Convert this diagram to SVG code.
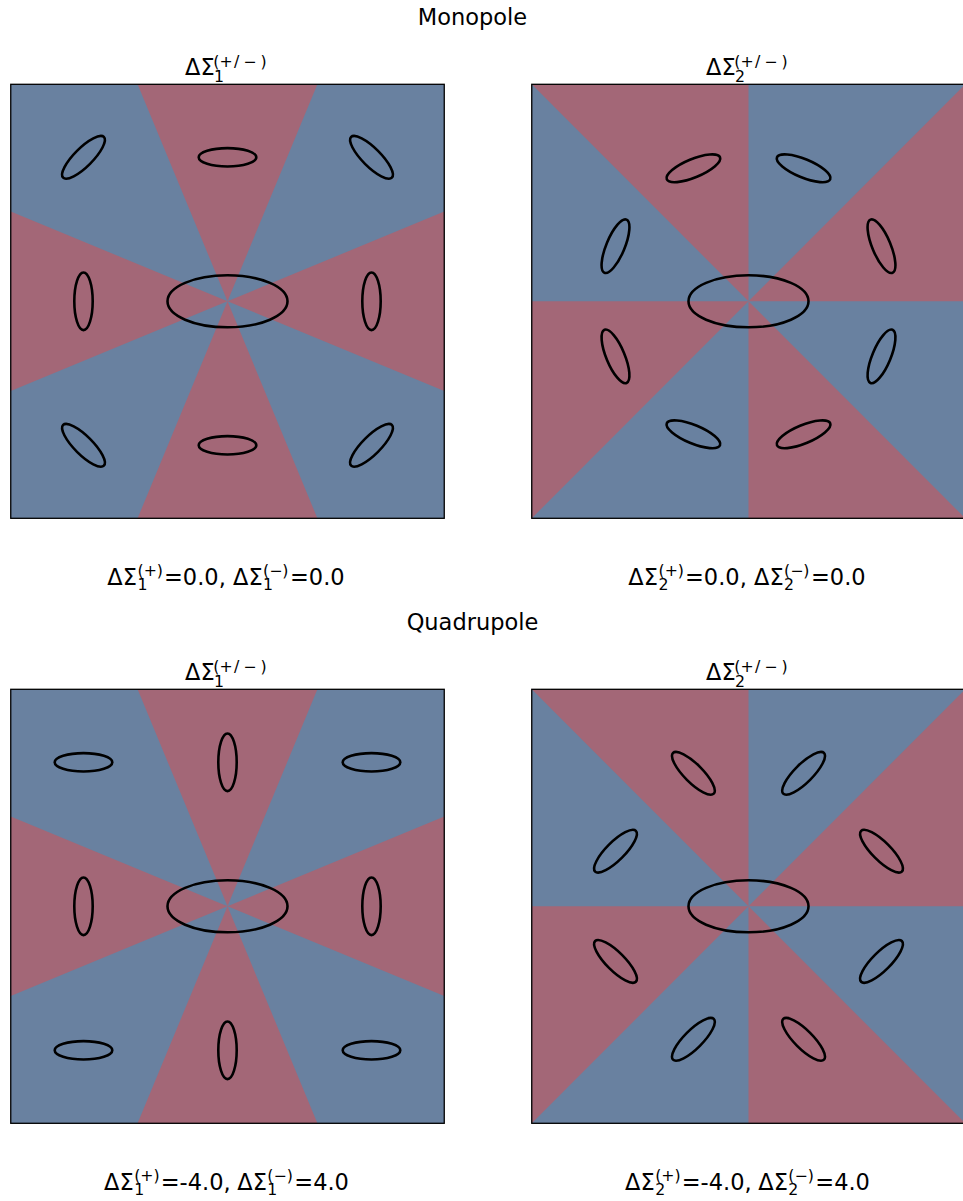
<svg xmlns="http://www.w3.org/2000/svg" xmlns:xlink="http://www.w3.org/1999/xlink" width="963" height="1201" viewBox="0 0 963 1201">
  <style>
    text { font-family: "DejaVu Sans", "Liberation Sans", sans-serif; fill: #000; }
    .m { font-size: 22.5px; }
    .s { font-size: 15.75px; }
    .blue { fill: #6981a0; }
    .red { fill: #a36777; }
    .frame { fill: none; stroke: #000; stroke-width: 1.3; }
    .e { fill: none; stroke: #000; stroke-width: 2.6; }
  </style>
  <defs>
    <!-- sign map of the first shear component: red on the axes, blue on the diagonals -->
    <g id="map1">
      <rect class="blue" x="-216.75" y="-217" width="433.5" height="434"/>
      <polygon class="red" points="0,0 216.75,-89.8 216.75,89.8"/>
      <polygon class="red" points="0,0 -216.75,-89.8 -216.75,89.8"/>
      <polygon class="red" points="0,0 -89.9,-217 89.9,-217"/>
      <polygon class="red" points="0,0 -89.9,217 89.9,217"/>
    </g>
    <!-- sign map of the second shear component: alternating 45 degree sectors -->
    <g id="map2">
      <rect class="blue" x="-216.75" y="-217" width="433.5" height="434"/>
      <polygon class="red" points="0,0 216.75,0 216.75,-217"/>
      <polygon class="red" points="0,0 0,-217 -216.75,-217"/>
      <polygon class="red" points="0,0 -216.75,0 -216.75,217"/>
      <polygon class="red" points="0,0 0,217 216.75,217"/>
    </g>
    <rect id="frame" class="frame" x="-216.75" y="-217" width="433.5" height="434"/>
    <ellipse id="lens" class="e" cx="0" cy="0" rx="60" ry="26"/>
    <ellipse id="gal" class="e" cx="0" cy="0" rx="28.8" ry="9.2"/>
  </defs>

  <!-- row titles -->
  <text class="m" x="472.5" y="25" text-anchor="middle">Monopole</text>
  <text class="m" x="472.5" y="630" text-anchor="middle">Quadrupole</text>

  <!-- Monopole, first component -->
  <g id="mono-1">
    <text class="m" x="185" y="75">ΔΣ</text>
    <text class="s" x="214" y="82">1</text>
    <text class="s" x="213.3 219.6 234 243.3 260.6" y="67">(+/−)</text>
    <g transform="translate(227.5,301.3)">
      <use xlink:href="#map1"/>
      <use xlink:href="#lens"/>
      <use xlink:href="#gal" transform="translate(-144,-144) rotate(-45)"/>
      <use xlink:href="#gal" transform="translate(0,-144)"/>
      <use xlink:href="#gal" transform="translate(144,-144) rotate(45)"/>
      <use xlink:href="#gal" transform="translate(-144,0) rotate(90)"/>
      <use xlink:href="#gal" transform="translate(144,0) rotate(90)"/>
      <use xlink:href="#gal" transform="translate(-144,144) rotate(45)"/>
      <use xlink:href="#gal" transform="translate(0,144)"/>
      <use xlink:href="#gal" transform="translate(144,144) rotate(-45)"/>
      <use xlink:href="#frame"/>
    </g>
    <text class="m" x="107.3" y="585">ΔΣ</text>
    <text class="s" x="137.5" y="589.5">1</text>
    <text class="s" x="137.5" y="575.5">(+)</text>
    <text class="m" x="164" y="585">=0.0,</text>
    <text class="m" x="233" y="585">ΔΣ</text>
    <text class="s" x="263" y="589.5">1</text>
    <text class="s" x="263" y="575.5">(−)</text>
    <text class="m" x="290" y="585">=0.0</text>
  </g>

  <!-- Monopole, second component -->
  <g id="mono-2">
    <text class="m" x="706" y="75">ΔΣ</text>
    <text class="s" x="735" y="82">2</text>
    <text class="s" x="734.3 740.6 755 764.3 781.6" y="67">(+/−)</text>
    <g transform="translate(748.5,301.3)">
      <use xlink:href="#map2"/>
      <use xlink:href="#lens"/>
      <use xlink:href="#gal" transform="translate(133,-55.1) rotate(67.5)"/>
      <use xlink:href="#gal" transform="translate(55.1,-133) rotate(22.5)"/>
      <use xlink:href="#gal" transform="translate(-55.1,-133) rotate(-22.5)"/>
      <use xlink:href="#gal" transform="translate(-133,-55.1) rotate(-67.5)"/>
      <use xlink:href="#gal" transform="translate(-133,55.1) rotate(67.5)"/>
      <use xlink:href="#gal" transform="translate(-55.1,133) rotate(22.5)"/>
      <use xlink:href="#gal" transform="translate(55.1,133) rotate(-22.5)"/>
      <use xlink:href="#gal" transform="translate(133,55.1) rotate(-67.5)"/>
      <use xlink:href="#frame"/>
    </g>
    <text class="m" x="628.3" y="585">ΔΣ</text>
    <text class="s" x="658.5" y="589.5">2</text>
    <text class="s" x="658.5" y="575.5">(+)</text>
    <text class="m" x="685" y="585">=0.0,</text>
    <text class="m" x="754" y="585">ΔΣ</text>
    <text class="s" x="784" y="589.5">2</text>
    <text class="s" x="784" y="575.5">(−)</text>
    <text class="m" x="811" y="585">=0.0</text>
  </g>

  <!-- Quadrupole, first component -->
  <g id="quad-1">
    <text class="m" x="185" y="680">ΔΣ</text>
    <text class="s" x="214" y="687">1</text>
    <text class="s" x="213.3 219.6 234 243.3 260.6" y="672">(+/−)</text>
    <g transform="translate(227.5,906.3)">
      <use xlink:href="#map1"/>
      <use xlink:href="#lens"/>
      <use xlink:href="#gal" transform="translate(-144,-144)"/>
      <use xlink:href="#gal" transform="translate(0,-144) rotate(90)"/>
      <use xlink:href="#gal" transform="translate(144,-144)"/>
      <use xlink:href="#gal" transform="translate(-144,0) rotate(90)"/>
      <use xlink:href="#gal" transform="translate(144,0) rotate(90)"/>
      <use xlink:href="#gal" transform="translate(-144,144)"/>
      <use xlink:href="#gal" transform="translate(0,144) rotate(90)"/>
      <use xlink:href="#gal" transform="translate(144,144)"/>
      <use xlink:href="#frame"/>
    </g>
    <text class="m" x="104" y="1190">ΔΣ</text>
    <text class="s" x="134.2" y="1194.5">1</text>
    <text class="s" x="134.2" y="1180.5">(+)</text>
    <text class="m" x="160.7" y="1190">=-4.0,</text>
    <text class="m" x="237.3" y="1190">ΔΣ</text>
    <text class="s" x="267.3" y="1194.5">1</text>
    <text class="s" x="267.3" y="1180.5">(−)</text>
    <text class="m" x="294.3" y="1190">=4.0</text>
  </g>

  <!-- Quadrupole, second component -->
  <g id="quad-2">
    <text class="m" x="706" y="680">ΔΣ</text>
    <text class="s" x="735" y="687">2</text>
    <text class="s" x="734.3 740.6 755 764.3 781.6" y="672">(+/−)</text>
    <g transform="translate(748.5,906.3)">
      <use xlink:href="#map2"/>
      <use xlink:href="#lens"/>
      <use xlink:href="#gal" transform="translate(133,-55.1) rotate(45)"/>
      <use xlink:href="#gal" transform="translate(55.1,-133) rotate(-45)"/>
      <use xlink:href="#gal" transform="translate(-55.1,-133) rotate(45)"/>
      <use xlink:href="#gal" transform="translate(-133,-55.1) rotate(-45)"/>
      <use xlink:href="#gal" transform="translate(-133,55.1) rotate(45)"/>
      <use xlink:href="#gal" transform="translate(-55.1,133) rotate(-45)"/>
      <use xlink:href="#gal" transform="translate(55.1,133) rotate(45)"/>
      <use xlink:href="#gal" transform="translate(133,55.1) rotate(-45)"/>
      <use xlink:href="#frame"/>
    </g>
    <text class="m" x="625" y="1190">ΔΣ</text>
    <text class="s" x="655.2" y="1194.5">2</text>
    <text class="s" x="655.2" y="1180.5">(+)</text>
    <text class="m" x="681.7" y="1190">=-4.0,</text>
    <text class="m" x="758.3" y="1190">ΔΣ</text>
    <text class="s" x="788.3" y="1194.5">2</text>
    <text class="s" x="788.3" y="1180.5">(−)</text>
    <text class="m" x="815.3" y="1190">=4.0</text>
  </g>
</svg>
